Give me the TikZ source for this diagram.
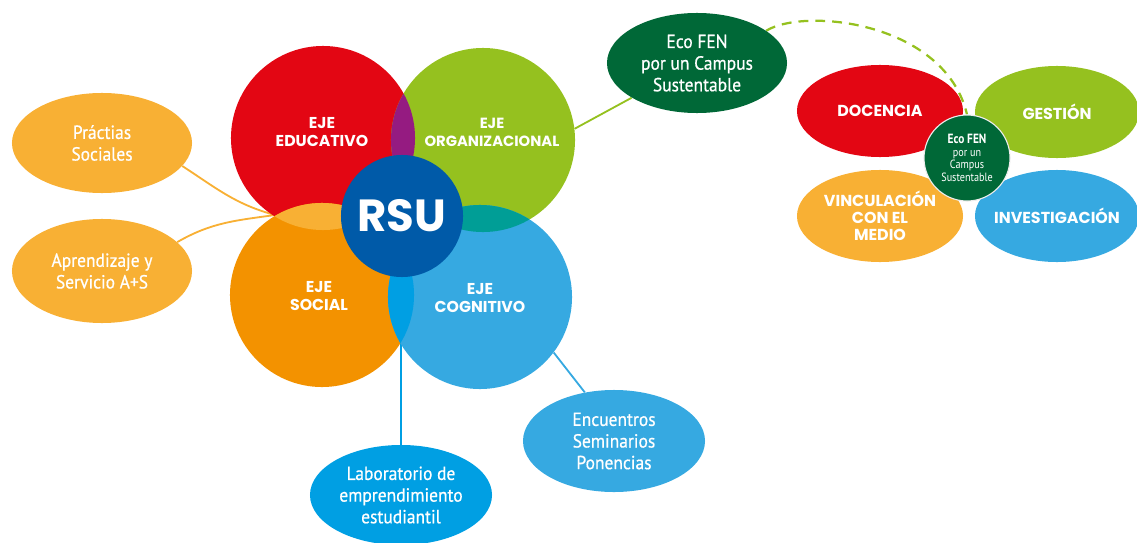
\documentclass[tikz,border=0pt]{standalone}
\usepackage{fontspec}
\setmainfont{PT Sans}[FakeStretch=0.92, FakeBold=0.6]
\newfontfamily\ejefont{Poppins}
\newfontfamily\smallfont{PT Sans}[FakeStretch=0.85]
\usetikzlibrary{shapes.geometric,backgrounds}
\definecolor{ejered}{RGB}{227,6,19}
\definecolor{ejegreen}{RGB}{149,193,31}
\definecolor{ejeorange}{RGB}{243,146,0}
\definecolor{ejeblue}{RGB}{54,169,225}
\definecolor{rsublue}{RGB}{0,90,168}
\definecolor{ejepurple}{RGB}{149,27,129}
\definecolor{ejeteal}{RGB}{0,158,150}
\definecolor{lightorange}{RGB}{248,176,52}
\definecolor{brightblue}{RGB}{0,159,227}
\definecolor{ecogreen}{RGB}{0,104,55}

\begin{document}
\begin{tikzpicture}[x=0.025cm, y=0.025cm,
                    ejecirc/.style={circle, inner sep=0pt, minimum size=4.6cm},
                    ejetxt/.style={align=center, text=white,
                    font=\ejefont\bfseries\fontsize{11.2}{12.9}\selectfont},
                    satell/.style={ellipse, align=center, text=white, inner sep=0pt,
                    minimum width=4.5cm, minimum height=2.5cm,
                    font=\fontsize{13.5}{15.4}\selectfont},
                    areaell/.style={ellipse, align=center, text=white, inner ysep=0pt, inner xsep=-10pt,
                    minimum width=4.15cm, minimum height=2.3cm,
                    font=\ejefont\bfseries\fontsize{11.3}{12}\selectfont},
                    conline/.style={line width=1.3pt},
                    dashgreen/.style={line width=1.6pt, draw=ejegreen, dash pattern=on 7pt off 5pt}]

                    \useasboundingbox (0,0) rectangle (1137,542);

                    % ejes
                    \node[ejecirc, fill=ejered] (educ) at (323,404) {};
                    \node[ejecirc, fill=ejegreen] (orga) at (483,402) {};
                    \node[ejecirc, fill=ejeorange] (soci) at (322,247) {};
                    \node[ejecirc, fill=ejeblue] (cogn) at (480,245) {};
                    \begin{scope}
                    \clip (educ.center) circle (2.3cm);
                    \fill[ejepurple] (orga.center) circle (2.3cm);
                    \fill[lightorange] (soci.center) circle (2.3cm);
                    \end{scope}
                    \begin{scope}
                    \clip (cogn.center) circle (2.3cm);
                    \fill[ejeteal] (orga.center) circle (2.3cm);
                    \fill[brightblue] (soci.center) circle (2.3cm);
                    \end{scope}
                    \coordinate (joinA) at (275,327);
                    \coordinate (joinB) at (401,199);

                    \node[ejetxt] (educ-t) at (322,410) {EJE\\EDUCATIVO};
                    \node[ejetxt, font=\ejefont\bfseries\fontsize{10.5}{12.9}\selectfont] (orga-t) at (492,410) {EJE\\ORGANIZACIONAL};
                    \node[ejetxt] (soci-t) at (319,246) {EJE\\SOCIAL};
                    \node[ejetxt] (cogn-t) at (480,244) {EJE\\COGNITIVO};

                    \node[circle, fill=rsublue, minimum size=3.05cm, text=white,
                    font=\ejefont\bfseries\fontsize{32}{34}\selectfont] (rsu) at (402,326) {RSU};

                    % satelites
                    \node[satell, fill=lightorange] (practicas) at (102,399) {Práctias\\Sociales};
                    \node[satell, fill=lightorange, minimum height=2.6cm] (aprend) at (102,271) {Aprendizaje y\\Servicio A+S};
                    \node[satell, fill=ecogreen] (ecotop) at (697,479) {Eco FEN\\por un Campus\\Sustentable};
                    \node[satell, fill=brightblue, minimum width=4.55cm] (labor) at (401,47) {Laboratorio de\\emprendimiento\\estudiantil};
                    \node[satell, fill=ejeblue, minimum width=4.55cm, minimum height=2.55cm] (encuen) at (614,101) {Encuentros\\Seminarios\\Ponencias};

                    % campus sustentable
                    \node[areaell, fill=ejered] (docen) at (880,431) {DOCENCIA};
                    \node[areaell, fill=ejegreen, minimum width=4.1cm] (gestion) at (1057,430) {GESTIÓN};
                    \node[areaell, fill=lightorange] (vincul) at (880,326) {VINCULACIÓN\\CON EL\\MEDIO};
                    \node[areaell, fill=ejeblue, minimum width=4.1cm] (investig) at (1057,326) {INVESTIGACIÓN};
                    \node[circle, fill=ecogreen, draw=white!85!gray, line width=0.8pt, inner sep=0pt,
                    minimum size=2.15cm, text=white, align=center,
                    font=\smallfont\fontsize{8.5}{9}\selectfont] (ecosmall) at (967,384)
                    {\textbf{\fontsize{9.5}{9}\selectfont Eco FEN}\\por un\\Campus\\Sustentable};

                    \begin{scope}[on background layer]
                    \draw[conline, draw=lightorange] (practicas.-16) to[out=-33,in=165] (joinA);
                    \draw[conline, draw=lightorange] (aprend.21) to[out=30,in=188] (joinA);
                    \draw[conline, draw=brightblue] (joinB) -- (labor.north);
                    \draw[conline, draw=ejeblue] (cogn.-37) -- (encuen.121);
                    \draw[conline, draw=ejegreen] (orga.7) -- (ecotop.208);
                    \draw[dashgreen] (ecotop.25) .. controls (805,535) and (945,520) .. (ecosmall.north);
                    \end{scope}
                    \end{tikzpicture}
\end{document}
